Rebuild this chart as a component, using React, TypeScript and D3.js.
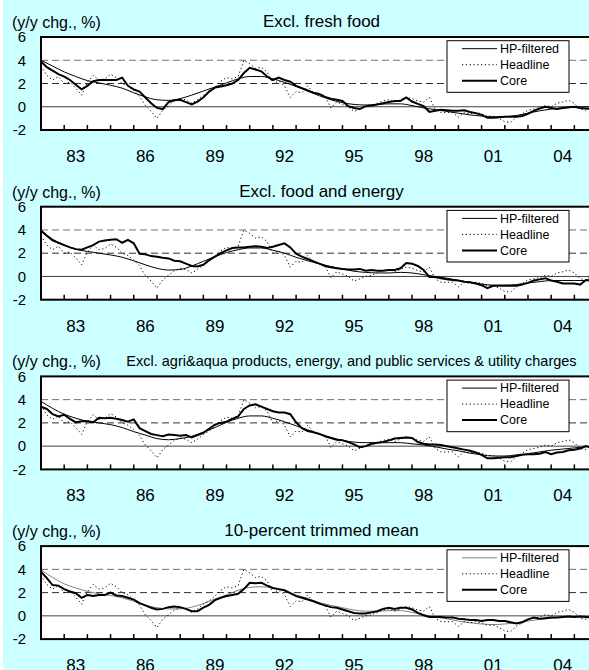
import React from "react";
import * as d3 from "d3";

// time axis: quarterly core/headline from 1982Q1, half-yearly HP trend from 1982H1
const startYear = 1982;
const tickYears = d3.range(1983, 2006);
const labelYears = [1983, 1986, 1989, 1992, 1995, 1998, 2001, 2004];
const yTicks = [6, 4, 2, 0, -2];
const dashedLevels = [4, 2];
const legendNames = ["HP-filtered", "Headline", "Core"];
const unitLabel = "(y/y chg., %)";

const titles = [
  "Excl. fresh food",
  "Excl. food and energy",
  "Excl. agri&aqua products, energy, and public services & utility charges",
  "10-percent trimmed mean",
];

// headline CPI, quarterly
const headline = [
  3.5, 2.7, 2.3, 2.6, 2.0, 2.1, 1.6, 1.0, 2.1, 2.7, 2.3, 2.4, 2.8, 2.5, 2.0, 1.8,
  1.4, 0.9, 0.1, -0.4, -1.0, -0.3, 0.1, 0.5, 0.7, 0.6, 0.3, 0.6, 1.0, 1.3, 1.7, 2.2,
  2.5, 2.4, 2.6, 4.0, 3.7, 3.3, 3.4, 3.0, 2.0, 2.2, 1.8, 0.8, 1.3, 1.2, 1.8, 1.2,
  1.1, 0.9, -0.1, 0.4, 0.2, 0.0, -0.4, -0.2, 0.0, 0.1, 0.3, 0.5, 0.6, 0.4, 0.6, 0.8,
  0.7, 0.5, 0.4, 0.8, -0.2, -0.5, -0.5, -0.5, -0.9, -0.5, -0.6, -0.5, -0.6, -0.8, -0.8, -1.0,
  -1.3, -1.35, -0.9, -0.6, -0.3, -0.2, -0.1, 0.1, 0.0, 0.3, 0.4, 0.55, 0.3, -0.2, -0.3, 0.1,
];

// core measures, quarterly
const coreFreshFood = [
  3.9, 3.4, 3.1, 2.8, 2.6, 2.3, 1.9, 1.5, 1.8, 2.2, 2.3, 2.3, 2.3, 2.3, 2.5, 1.8,
  1.5, 1.3, 0.8, 0.3, -0.1, -0.2, 0.4, 0.55, 0.6, 0.4, 0.2, 0.45, 0.8, 1.3, 1.65, 1.75,
  1.85, 2.0, 2.3, 2.9, 3.35, 3.2, 3.05, 2.6, 2.3, 2.5, 2.3, 2.15, 1.8, 1.6, 1.4, 1.2,
  1.1, 0.85, 0.7, 0.6, 0.5, 0.05, -0.1, -0.2, 0.05, 0.1, 0.2, 0.3, 0.4, 0.5, 0.5, 0.8,
  0.45, 0.25, 0.05, -0.45, -0.35, -0.25, -0.3, -0.35, -0.35, -0.3, -0.45, -0.55, -0.7, -0.95, -0.95, -0.9,
  -0.85, -0.85, -0.85, -0.8, -0.6, -0.35, -0.15, 0.0, -0.1, -0.2, -0.1, -0.05, 0.0, -0.1, -0.15, -0.2,
];
const coreFoodEnergy = [
  3.95, 3.5, 3.1, 2.9, 2.7, 2.5, 2.35, 2.3, 2.5, 2.7, 3.0, 3.1, 3.15, 3.2, 2.9, 3.15,
  2.85, 1.95, 1.9, 1.75, 1.7, 1.6, 1.55, 1.35, 1.3, 1.1, 0.9, 0.85, 1.0, 1.4, 1.7, 2.0,
  2.25, 2.45, 2.5, 2.5, 2.55, 2.6, 2.55, 2.45, 2.55, 2.7, 2.85, 2.5, 1.95, 1.7, 1.5, 1.3,
  1.1, 0.9, 0.8, 0.7, 0.65, 0.6, 0.6, 0.65, 0.5, 0.55, 0.5, 0.5, 0.55, 0.55, 0.7, 1.15,
  1.1, 0.9, 0.55, -0.05, -0.05, -0.15, -0.25, -0.3, -0.35, -0.45, -0.5, -0.6, -0.75, -1.0, -0.8, -0.8,
  -0.8, -0.8, -0.8, -0.7, -0.55, -0.35, -0.25, -0.15, -0.35, -0.45, -0.6, -0.6, -0.6, -0.7, -0.3, -0.35,
];
const coreAgriEnergyPublic = [
  3.4, 3.2, 2.75, 2.55, 2.7, 2.35, 2.05, 2.15, 2.15, 2.05, 2.45, 2.4, 2.45, 2.35, 2.25, 2.1,
  2.3, 1.55, 1.3, 1.05, 0.95, 0.85, 1.0, 0.95, 0.9, 0.95, 0.75, 0.95, 1.15, 1.5, 1.85, 2.0,
  2.1, 2.35, 2.55, 3.2, 3.5, 3.6, 3.4, 3.2, 3.0, 2.9, 2.9, 2.75, 2.05, 1.55, 1.3, 1.2,
  1.05, 0.85, 0.7, 0.55, 0.5, 0.35, 0.15, -0.1, 0.0, 0.2, 0.3, 0.35, 0.5, 0.65, 0.7, 0.75,
  0.7, 0.35, 0.2, 0.15, 0.15, 0.1, 0.0, -0.1, -0.2, -0.3, -0.4, -0.55, -0.75, -1.05, -1.05, -1.0,
  -0.95, -0.95, -0.85, -0.75, -0.7, -0.7, -0.65, -0.5, -0.7, -0.55, -0.5, -0.35, -0.3, -0.2, 0.0, -0.15,
];
const coreTrimmedMean = [
  3.8, 3.25, 2.65, 2.6, 2.3, 2.1, 1.95, 1.55, 1.8, 1.7, 1.8, 1.8, 2.0, 1.75, 1.7, 1.55,
  1.4, 1.1, 0.9, 0.7, 0.55, 0.6, 0.75, 0.8, 0.75, 0.6, 0.4, 0.4, 0.7, 0.95, 1.35, 1.55,
  1.7, 1.8, 1.9, 2.3, 2.85, 2.8, 2.85, 2.6, 2.4, 2.3, 2.2, 1.95, 1.7, 1.55, 1.4, 1.25,
  1.05, 0.9, 0.75, 0.7, 0.55, 0.4, 0.25, 0.2, 0.2, 0.3, 0.4, 0.6, 0.7, 0.6, 0.7, 0.7,
  0.55, 0.25, 0.05, -0.1, -0.1, -0.1, -0.15, -0.15, -0.25, -0.3, -0.35, -0.35, -0.45, -0.35, -0.35, -0.45,
  -0.45, -0.55, -0.65, -0.55, -0.3, -0.15, -0.25, -0.2, -0.15, -0.15, -0.1, -0.05, -0.1, -0.05, -0.1, -0.15,
];

// HP-filtered trends, half-yearly
const hpFreshFood = [
  4.0, 3.5, 3.0, 2.6, 2.25, 2.05, 1.85, 1.6, 1.2, 0.85, 0.6, 0.55, 0.7, 1.0, 1.35, 1.7,
  2.05, 2.4, 2.6, 2.6, 2.4, 2.1, 1.75, 1.35, 0.95, 0.6, 0.35, 0.2, 0.15, 0.2, 0.25, 0.25,
  0.1, -0.1, -0.25, -0.4, -0.55, -0.7, -0.8, -0.87, -0.85, -0.75, -0.55, -0.35, -0.2, -0.1, -0.05, 0.0,
  0.0,
];
const hpFoodEnergy = [
  3.95, 3.2, 2.7, 2.35, 2.15, 2.0, 1.85, 1.65, 1.35, 1.0, 0.7, 0.55, 0.6, 0.9, 1.3, 1.7,
  2.05, 2.3, 2.45, 2.45, 2.25, 2.0, 1.65, 1.35, 1.1, 0.85, 0.65, 0.45, 0.35, 0.3, 0.3, 0.35,
  0.3, 0.15, 0.0, -0.15, -0.35, -0.5, -0.65, -0.75, -0.75, -0.7, -0.55, -0.45, -0.35, -0.35, -0.35, -0.35,
  -0.35,
];
const hpAgriEnergyPublic = [
  3.85, 3.25, 2.75, 2.4, 2.15, 2.0, 1.85, 1.6, 1.25, 0.95, 0.65, 0.55, 0.65, 0.85, 1.2, 1.6,
  2.05, 2.4, 2.6, 2.6, 2.4, 2.1, 1.75, 1.4, 1.05, 0.75, 0.5, 0.35, 0.3, 0.3, 0.3, 0.3,
  0.2, 0.1, -0.05, -0.25, -0.4, -0.6, -0.75, -0.85, -0.85, -0.75, -0.65, -0.5, -0.35, -0.25, -0.15, -0.05,
  0.0,
];
const hpTrimmedMean = [
  3.95, 3.3, 2.75, 2.4, 2.1, 1.9, 1.75, 1.55, 1.25, 0.9, 0.7, 0.6, 0.6, 0.75, 1.05, 1.45,
  1.8, 2.2, 2.45, 2.5, 2.4, 2.15, 1.8, 1.5, 1.15, 0.9, 0.7, 0.5, 0.4, 0.4, 0.45, 0.45,
  0.3, 0.1, -0.1, -0.25, -0.45, -0.6, -0.7, -0.75, -0.7, -0.6, -0.45, -0.3, -0.2, -0.1, -0.05, -0.05,
  -0.05,
];

const cores = [coreFreshFood, coreFoodEnergy, coreAgriEnergyPublic, coreTrimmedMean];
const hps = [hpFreshFood, hpFoodEnergy, hpAgriEnergyPublic, hpTrimmedMean];

const W = 589;
const H = 670;
const font = "'Liberation Sans', Arial, sans-serif";
const plotLeft = 41;
const plotRight = 41 + 24 * 23.19;
const plotH = 93;
const panelGap = 169.7;

const x = d3.scaleLinear().domain([1982, 2006]).range([plotLeft, plotRight]);

const toPoints = (vals: number[], step: number) =>
  vals.map((v, k) => [startYear + k * step, v] as [number, number]);

function Panel({ idx }: { idx: number }) {
  const top = 37 + idx * panelGap;
  const bottom = top + plotH;
  const y = d3.scaleLinear().domain([-2, 6]).range([bottom, top]);

  const straight = d3.line<[number, number]>().x((d) => x(d[0])).y((d) => y(d[1]));
  const smooth = d3
    .line<[number, number]>()
    .curve(d3.curveMonotoneX)
    .x((d) => x(d[0]))
    .y((d) => y(d[1]));

  const clipId = `clip-${idx}`;
  const hpColor = idx === 3 ? "#808080" : "#000";
  const isLong = idx === 2;

  // legend box
  const lx = 447;
  const ly = top + 3.7;
  const rows = [top + 11.7, top + 27.7, top + 43.7];

  return (
    <g>
      <clipPath id={clipId}>
        <rect x={plotLeft} y={top} width={plotRight - plotLeft} height={plotH} />
      </clipPath>
      <rect x={plotLeft} y={top} width={plotRight - plotLeft} height={plotH} fill="#fff" />

      {dashedLevels.map((v, k) => (
        <line
          key={v}
          x1={plotLeft}
          x2={plotRight}
          y1={y(v)}
          y2={y(v)}
          stroke={k === 0 ? "#707070" : "#303030"}
          strokeWidth={1}
          strokeDasharray="7,4"
        />
      ))}
      <line x1={plotLeft} x2={plotRight} y1={y(0)} y2={y(0)} stroke="#404040" strokeWidth={1} />

      <g clipPath={`url(#${clipId})`} fill="none">
        <path d={smooth(toPoints(hps[idx], 0.5)) || ""} stroke={hpColor} strokeWidth={1} />
        <path
          d={straight(toPoints(headline, 0.25)) || ""}
          stroke="#000"
          strokeWidth={1}
          strokeDasharray="1.2,2.6"
        />
        <path d={straight(toPoints(cores[idx], 0.25)) || ""} stroke="#000" strokeWidth={2} />
      </g>

      <rect
        x={plotLeft}
        y={top}
        width={plotRight - plotLeft}
        height={plotH}
        fill="none"
        stroke="#000"
        strokeWidth={2}
      />
      {tickYears.map((yr) => (
        <line key={yr} x1={x(yr)} x2={x(yr)} y1={bottom} y2={bottom - 5} stroke="#000" strokeWidth={1.5} />
      ))}

      {/* legend */}
      <rect x={lx} y={ly} width={122} height={51.6} fill="#fff" stroke="#000" strokeWidth={1} />
      {legendNames.map((name, k) => (
        <g key={name}>
          <line
            x1={462}
            x2={497}
            y1={rows[k]}
            y2={rows[k]}
            stroke={k === 0 ? hpColor : "#000"}
            strokeWidth={k === 2 ? 2 : 1}
            strokeDasharray={k === 1 ? "1.2,2.6" : undefined}
          />
          <text x={500} y={rows[k]} dy="0.35em" fontSize={12.5} fontFamily={font} fill="#000">
            {name}
          </text>
        </g>
      ))}

      {/* y labels */}
      {yTicks.map((v) => (
        <text key={v} x={26} y={y(v)} dy="0.35em" textAnchor="end" fontSize={15} fontFamily={font}>
          {v}
        </text>
      ))}
      <text x={12} y={top - 9} fontSize={16} fontFamily={font}>
        {unitLabel}
      </text>
      <text
        x={isLong ? 351.5 : 321.5}
        y={top - 10}
        textAnchor="middle"
        fontSize={isLong ? 14.5 : 17}
        fontFamily={font}
      >
        {titles[idx]}
      </text>

      {labelYears.map((yr) => (
        <text key={yr} x={x(yr + 0.5)} y={bottom + 32} textAnchor="middle" fontSize={17} fontFamily={font}>
          {String(yr).slice(2)}
        </text>
      ))}
    </g>
  );
}

export default function App() {
  return (
    <svg
      width={W}
      height={H}
      style={{ position: "absolute", left: 0, top: 0, display: "block" }}
    >
      <rect x={0} y={0} width={W} height={H} fill="#fff" />
      <rect x={3} y={0} width={W - 3} height={H} fill="#ccffff" />
      {titles.map((t, i) => (
        <Panel key={t} idx={i} />
      ))}
    </svg>
  );
}
